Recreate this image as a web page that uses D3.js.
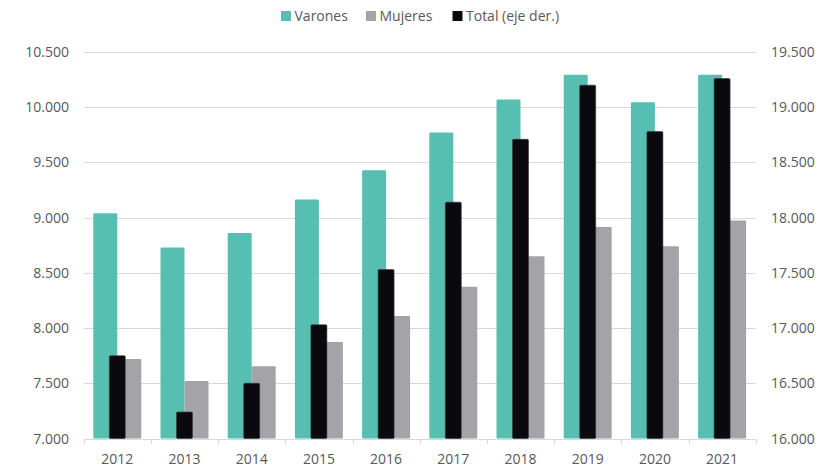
<!DOCTYPE html>
<html>
<head>
<meta charset="utf-8">
<script src="https://cdn.jsdelivr.net/npm/d3@7"></script>
<style>
  html, body { margin: 0; padding: 0; background: #fff; }
  svg { display: block; font-family: "Open Sans", sans-serif; }
</style>
</head>
<body>
<svg id="chart" width="832" height="468"></svg>
<script>
const years = ["2012","2013","2014","2015","2016","2017","2018","2019","2020","2021"];
const varones = [9040, 8730, 8860, 9165, 9430, 9770, 10070, 10295, 10045, 10295];
const mujeres = [7720, 7520, 7655, 7875, 8110, 8375, 8650, 8915, 8740, 8975];
const total = [16750, 16240, 16500, 17030, 17530, 18140, 18710, 19200, 18780, 19260];
const leftTicks = [7000, 7500, 8000, 8500, 9000, 9500, 10000, 10500];
const rightTicks = [16000, 16500, 17000, 17500, 18000, 18500, 19000, 19500];
const seriesNames = ["Varones", "Mujeres", "Total (eje der.)"];
const colors = ["#56BFB2", "#A4A4A8", "#09090E"];

const svg = d3.select("#chart");
const textColor = "#595959";
const fmt = v => d3.format(",")(v).replace(/,/g, ".");

const plotL = 83.7, plotR = 755.7, plotT = 52, plotB = 438.5;

const x = d3.scaleBand().domain(years).range([plotL, plotR]).paddingInner(0.286).paddingOuter(0.143);
const x1 = d3.scaleBand().domain(["V", "M"]).range([0, x.bandwidth()]);
const yL = d3.scaleLinear().domain([7000, 10500]).range([plotB, plotT]);
const yR = d3.scaleLinear().domain([16000, 19500]).range([plotB, plotT]);

// gridlines
svg.append("g").selectAll("line").data(leftTicks.slice(1)).join("line")
  .attr("x1", plotL).attr("x2", plotR)
  .attr("y1", d => Math.round(yL(d)) + 0.5).attr("y2", d => Math.round(yL(d)) + 0.5)
  .attr("stroke", "#d9d9d9").attr("stroke-width", 1);

// left axis labels
svg.append("g").selectAll("text").data(leftTicks).join("text")
  .attr("x", 69).attr("y", d => yL(d)).attr("dy", "0.36em")
  .attr("text-anchor", "end").attr("font-size", 14).attr("fill", textColor)
  .text(fmt);

// right axis labels
svg.append("g").selectAll("text").data(rightTicks).join("text")
  .attr("x", 771).attr("y", d => yR(d)).attr("dy", "0.36em")
  .attr("text-anchor", "start").attr("font-size", 14).attr("fill", textColor)
  .text(fmt);

// bars
const g = svg.append("g");
years.forEach((yr, i) => {
  const x0 = x(yr);
  g.append("rect").attr("x", x0 + x1("V")).attr("width", x1.bandwidth())
    .attr("y", yL(varones[i])).attr("height", plotB - yL(varones[i]))
    .attr("rx", 1.2).attr("fill", colors[0]);
  g.append("rect").attr("x", x0 + x1("M")).attr("width", x1.bandwidth())
    .attr("y", yL(mujeres[i])).attr("height", plotB - yL(mujeres[i]))
    .attr("rx", 1.2).attr("fill", colors[1]);
  const bw = x.bandwidth() / 3;
  g.append("rect").attr("x", x0 + x.bandwidth() / 2 - bw / 2).attr("width", bw)
    .attr("y", yR(total[i])).attr("height", plotB - yR(total[i]))
    .attr("rx", 1.2).attr("fill", colors[2]).attr("stroke", "#3a3a3e").attr("stroke-width", 0.6);
});

// x axis baseline and ticks
const ax = svg.append("g");
ax.append("line").attr("x1", plotL).attr("x2", plotR)
  .attr("y1", Math.round(plotB) + 0.5).attr("y2", Math.round(plotB) + 0.5)
  .attr("stroke", "#d9d9d9");
const bounds = years.map(yr => x(yr) - x.step() * x.paddingInner() / 2);
bounds.push(plotR);
ax.selectAll("line.tick").data(bounds).join("line").attr("class", "tick")
  .attr("x1", d => Math.round(d) + 0.5).attr("x2", d => Math.round(d) + 0.5)
  .attr("y1", Math.round(plotB)).attr("y2", Math.round(plotB) + 5)
  .attr("stroke", "#d9d9d9");
ax.selectAll("text").data(years).join("text")
  .attr("x", d => x(d) + x.bandwidth() / 2).attr("y", 464)
  .attr("text-anchor", "middle").attr("font-size", 14).attr("fill", textColor)
  .text(d => d);

// legend
const legX = [281, 366, 452.5];
const lg = svg.append("g");
seriesNames.forEach((name, i) => {
  lg.append("rect").attr("x", legX[i]).attr("y", 11).attr("width", 10).attr("height", 10).attr("fill", colors[i]);
  lg.append("text").attr("x", legX[i] + 13.5).attr("y", 21).attr("font-size", 14).attr("fill", textColor).text(name);
});
</script>
</body>
</html>
